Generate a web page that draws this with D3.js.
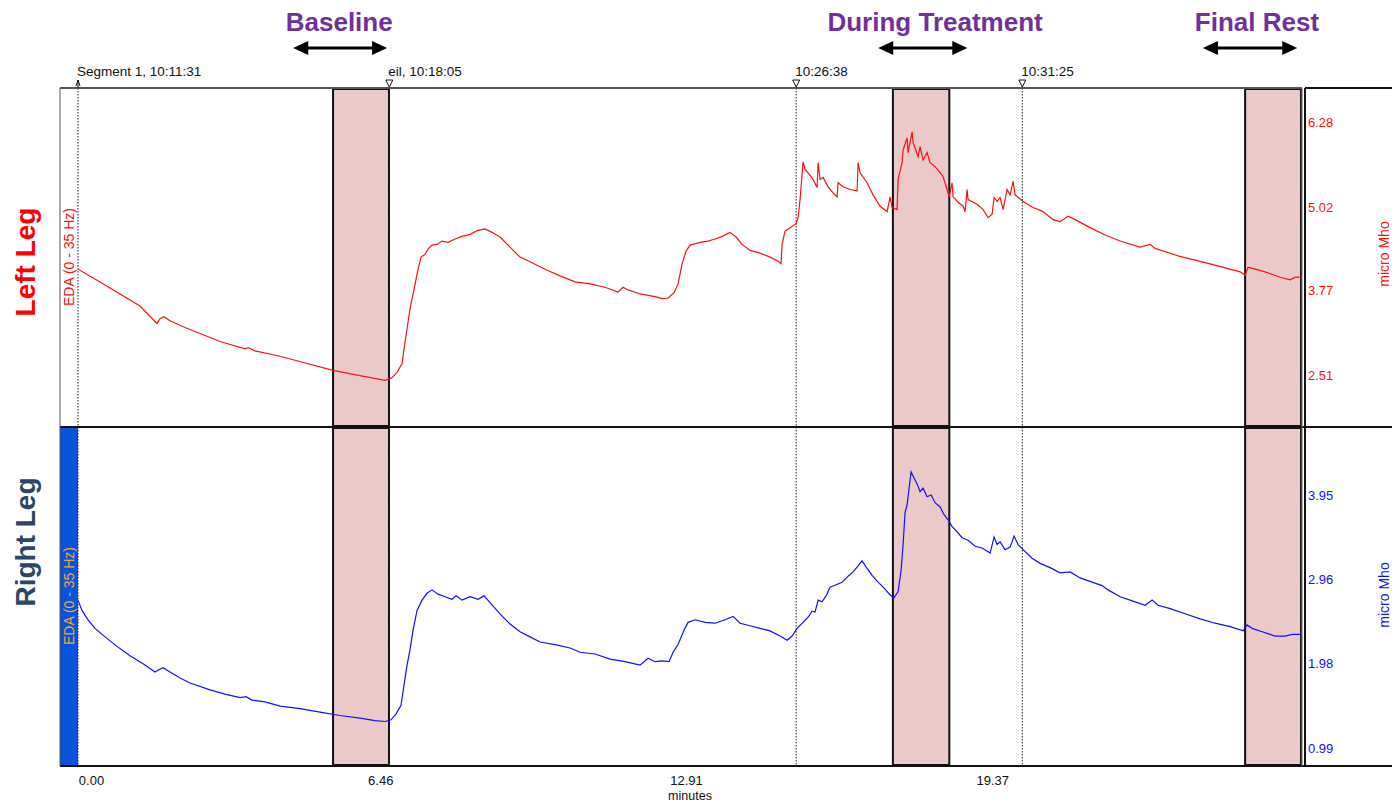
<!DOCTYPE html>
<html><head><meta charset="utf-8">
<script src="https://cdn.jsdelivr.net/npm/d3@7"></script>
<style>body{margin:0;background:#fff;}svg{display:block;font-family:"Liberation Sans",Arial,sans-serif;}</style>
</head><body><svg id="c" width="1400" height="803"></svg>
<script>
// ---- data ----
const leftLeg = [[0,4.09],[0.464,3.90],[0.886,3.72],[1.308,3.54],[1.667,3.28],[1.730,3.35],[1.814,3.38],[1.941,3.32],[2.257,3.22],[2.574,3.13],[2.996,3.01],[3.523,2.90],[3.586,2.92],[3.734,2.87],[4.262,2.79],[4.895,2.67],[5.380,2.58],[5.949,2.50],[6.477,2.43],[6.624,2.47],[6.730,2.55],[6.835,2.68],[6.878,2.90],[6.941,3.20],[7.004,3.50],[7.089,3.79],[7.173,4.09],[7.236,4.27],[7.321,4.31],[7.384,4.39],[7.468,4.45],[7.574,4.46],[7.679,4.51],[7.806,4.49],[7.954,4.54],[8.101,4.58],[8.270,4.61],[8.439,4.67],[8.586,4.69],[8.734,4.64],[8.903,4.57],[9.114,4.42],[9.325,4.27],[9.536,4.20],[9.852,4.09],[10.169,3.99],[10.485,3.90],[10.802,3.87],[11.118,3.82],[11.392,3.75],[11.498,3.82],[11.603,3.78],[11.857,3.72],[12.173,3.68],[12.321,3.65],[12.447,3.66],[12.574,3.74],[12.658,3.87],[12.743,4.17],[12.827,4.36],[12.911,4.45],[13.122,4.49],[13.291,4.51],[13.439,4.54],[13.586,4.58],[13.755,4.64],[13.882,4.57],[14.008,4.46],[14.177,4.37],[14.388,4.33],[14.599,4.27],[14.768,4.21],[14.831,4.17],[14.852,4.46],[14.916,4.66],[15.021,4.71],[15.148,4.77],[15.190,4.86],[15.232,5.13],[15.295,5.69],[15.338,5.58],[15.443,5.49],[15.506,5.43],[15.591,5.31],[15.612,5.68],[15.654,5.43],[15.717,5.46],[15.823,5.32],[15.928,5.23],[16.013,5.17],[16.034,5.38],[16.139,5.32],[16.287,5.28],[16.435,5.26],[16.456,5.68],[16.498,5.53],[16.646,5.38],[16.772,5.20],[16.920,5.03],[17.068,4.95],[17.131,5.17],[17.173,5.01],[17.278,4.98],[17.300,5.43],[17.384,5.68],[17.405,5.87],[17.489,6.05],[17.511,5.83],[17.595,6.14],[17.616,5.98],[17.722,5.77],[17.764,5.92],[17.827,5.72],[17.911,5.83],[17.975,5.68],[18.080,5.62],[18.186,5.53],[18.249,5.47],[18.333,5.28],[18.376,5.17],[18.439,5.38],[18.460,5.17],[18.565,5.09],[18.671,5.03],[18.713,4.95],[18.755,5.28],[18.776,5.13],[18.966,5.06],[19.093,4.98],[19.198,4.86],[19.283,4.91],[19.325,5.16],[19.388,5.10],[19.451,5.16],[19.515,4.98],[19.599,5.28],[19.662,5.20],[19.726,5.40],[19.768,5.20],[19.937,5.10],[20.148,5.01],[20.359,4.95],[20.570,4.83],[20.717,4.80],[20.886,4.88],[21.034,4.83],[21.350,4.71],[21.667,4.60],[21.983,4.51],[22.405,4.42],[22.616,4.46],[22.722,4.40],[23.249,4.28],[23.882,4.17],[24.515,4.05],[24.620,4.00],[24.684,4.12],[24.831,4.09],[25.042,4.05],[25.359,3.97],[25.570,3.93],[25.675,3.97],[25.802,3.97]];

const rightLeg = [[0,2.72],[0.084,2.60],[0.211,2.49],[0.359,2.39],[0.570,2.29],[0.844,2.17],[1.097,2.07],[1.414,1.96],[1.624,1.88],[1.688,1.90],[1.793,1.93],[1.941,1.88],[2.152,1.81],[2.363,1.75],[2.785,1.67],[3.101,1.62],[3.418,1.58],[3.544,1.59],[3.671,1.55],[3.945,1.53],[4.262,1.48],[4.684,1.45],[5.105,1.41],[5.527,1.37],[5.949,1.34],[6.266,1.31],[6.477,1.30],[6.603,1.32],[6.709,1.39],[6.814,1.49],[6.878,1.73],[6.941,1.96],[7.004,2.14],[7.068,2.37],[7.152,2.60],[7.257,2.72],[7.363,2.80],[7.468,2.84],[7.595,2.79],[7.743,2.76],[7.890,2.73],[7.975,2.77],[8.101,2.72],[8.270,2.76],[8.439,2.73],[8.565,2.77],[8.692,2.69],[8.903,2.56],[9.114,2.44],[9.325,2.35],[9.536,2.29],[9.747,2.23],[10.063,2.20],[10.380,2.16],[10.591,2.11],[10.907,2.09],[11.224,2.03],[11.540,2.00],[11.857,1.96],[12.025,2.04],[12.173,2.00],[12.321,2.01],[12.468,2.00],[12.553,2.11],[12.658,2.20],[12.785,2.37],[12.869,2.46],[13.017,2.49],[13.228,2.46],[13.439,2.45],[13.650,2.49],[13.819,2.53],[13.966,2.45],[14.177,2.42],[14.388,2.39],[14.599,2.36],[14.810,2.30],[14.958,2.25],[15.063,2.30],[15.169,2.39],[15.295,2.46],[15.401,2.52],[15.485,2.59],[15.548,2.58],[15.612,2.72],[15.696,2.70],[15.781,2.77],[15.865,2.87],[15.992,2.90],[16.118,2.93],[16.245,3.00],[16.350,3.05],[16.456,3.12],[16.540,3.18],[16.624,3.11],[16.751,3.01],[16.878,2.93],[17.004,2.86],[17.131,2.78],[17.215,2.75],[17.300,2.82],[17.363,3.07],[17.405,3.37],[17.447,3.75],[17.489,3.83],[17.532,4.03],[17.574,4.22],[17.637,4.15],[17.700,4.08],[17.764,3.99],[17.827,4.03],[17.911,3.93],[17.996,3.95],[18.080,3.86],[18.186,3.81],[18.270,3.72],[18.354,3.66],[18.439,3.58],[18.544,3.52],[18.650,3.45],[18.776,3.42],[18.924,3.35],[19.072,3.33],[19.241,3.27],[19.325,3.46],[19.388,3.37],[19.451,3.40],[19.557,3.31],[19.662,3.34],[19.747,3.47],[19.831,3.37],[19.958,3.30],[20.127,3.21],[20.295,3.15],[20.506,3.10],[20.717,3.04],[20.928,3.05],[21.139,2.98],[21.392,2.93],[21.603,2.89],[21.730,2.84],[21.983,2.76],[22.300,2.70],[22.511,2.66],[22.658,2.72],[22.785,2.66],[23.038,2.62],[23.354,2.56],[23.671,2.50],[23.987,2.45],[24.304,2.41],[24.578,2.36],[24.662,2.43],[24.768,2.39],[24.979,2.35],[25.253,2.30],[25.464,2.30],[25.612,2.32],[25.802,2.32]];

const xTicks = [0, 6.46, 12.91, 19.37];
const leftTicks = [2.51, 3.77, 5.02, 6.28];
const rightTicks = [0.99, 1.98, 2.96, 3.95];
const markerTimes = [0, 6.567, 15.15, 19.92];
const markerLabels = ["Segment 1, 10:11:31", "eil, 10:18:05", "10:26:38", "10:31:25"];
const phaseNames = ["Baseline", "During Treatment", "Final Rest"];
const phaseStart = [5.38, 17.19, 24.62];
const phaseEnd = [6.56, 18.38, 25.80];
const phaseArrowStart = [4.54, 16.88, 23.73];
const phaseArrowEnd = [6.52, 18.76, 25.72];
const phaseLabelCenter = [5.51, 18.08, 24.87];

// ---- layout ----
const svg = d3.select("#c");
const L = 78, R = 1302, stripL = 60, axR = 1305, farR = 1392;
const top1 = 88, mid = 427, bot = 766;
const x = d3.scaleLinear().domain([0, 25.82]).range([L, R]);
const yTop = d3.scaleLinear().domain([2.51, 6.28]).range([375, 122.5]);
const yBot = d3.scaleLinear().domain([0.99, 3.95]).range([748, 495]);

const defs = svg.append("defs");
defs.append("clipPath").attr("id","cTop").append("rect").attr("x",L).attr("y",top1).attr("width",R-L).attr("height",mid-top1);
defs.append("clipPath").attr("id","cBot").append("rect").attr("x",L).attr("y",mid).attr("width",R-L).attr("height",bot-mid);

// left strip
svg.append("rect").attr("x",stripL).attr("y",top1).attr("width",L-stripL).attr("height",mid-top1).attr("fill","#fff");
svg.append("rect").attr("x",stripL).attr("y",mid).attr("width",L-stripL).attr("height",bot-mid).attr("fill","#0753dc");

// shaded regions
[[top1+1, mid-1],[mid+1, bot-1]].forEach(([a,b]) => {
  svg.append("g").selectAll("rect").data(phaseStart).join("rect")
    .attr("x",(d)=>x(d)).attr("y",a)
    .attr("width",(d,i)=>x(phaseEnd[i])-x(d)).attr("height",b-a)
    .attr("fill","#ebc9c9").attr("stroke","#111").attr("stroke-width",2);
});

// marker dotted lines
svg.append("g").selectAll("line").data(markerTimes).join("line")
  .attr("x1",d=>x(d)).attr("x2",d=>x(d)).attr("y1",top1).attr("y2",bot)
  .attr("stroke","#222").attr("stroke-width",1).attr("stroke-dasharray","1.5,1.5");

// lines
const lineTop = d3.line().x(d=>x(d[0])).y(d=>yTop(d[1]));
const lineBot = d3.line().x(d=>x(d[0])).y(d=>yBot(d[1]));
svg.append("path").attr("d",lineTop(leftLeg)).attr("fill","none").attr("stroke","#ff1010").attr("stroke-width",1.2).attr("clip-path","url(#cTop)");
svg.append("path").attr("d",lineBot(rightLeg)).attr("fill","none").attr("stroke","#1010ff").attr("stroke-width",1.2).attr("clip-path","url(#cBot)");

// frames
const fr = svg.append("g").attr("stroke","#111").attr("fill","none");
fr.append("line").attr("x1",stripL).attr("x2",R).attr("y1",top1).attr("y2",top1).attr("stroke","#555").attr("stroke-width",2);
fr.append("line").attr("x1",axR).attr("x2",farR).attr("y1",top1).attr("y2",top1).attr("stroke-width",2);
fr.append("line").attr("x1",stripL).attr("x2",farR).attr("y1",mid).attr("y2",mid).attr("stroke-width",2);
fr.append("line").attr("x1",stripL).attr("x2",farR).attr("y1",bot).attr("y2",bot).attr("stroke-width",2);
fr.append("line").attr("x1",stripL).attr("x2",stripL).attr("y1",top1).attr("y2",bot).attr("stroke","#555").attr("stroke-width",1);
fr.append("line").attr("x1",R).attr("x2",R).attr("y1",top1).attr("y2",bot).attr("stroke","#777").attr("stroke-width",1);
fr.append("line").attr("x1",axR).attr("x2",axR).attr("y1",top1).attr("y2",bot).attr("stroke-width",2);

// right axes
const axT = svg.append("g").attr("transform",`translate(${axR},0)`)
  .call(d3.axisRight(yTop).tickValues(leftTicks).tickSize(0).tickPadding(3).tickFormat(d3.format(".2f")));
axT.select(".domain").remove();
axT.selectAll("text").attr("fill","#ff1010").attr("font-size",13).attr("font-family","Liberation Sans, Arial");
const axB = svg.append("g").attr("transform",`translate(${axR},0)`)
  .call(d3.axisRight(yBot).tickValues(rightTicks).tickSize(0).tickPadding(3).tickFormat(d3.format(".2f")));
axB.select(".domain").remove();
axB.selectAll("text").attr("fill","#1010ff").attr("font-size",13).attr("font-family","Liberation Sans, Arial");

svg.append("text").attr("transform","translate(1389,254) rotate(-90)").attr("text-anchor","middle")
  .attr("font-size",14).attr("fill","#ff1010").text("micro Mho");
svg.append("text").attr("transform","translate(1389,595) rotate(-90)").attr("text-anchor","middle")
  .attr("font-size",14).attr("fill","#1010ff").text("micro Mho");

// bottom axis
const axX = svg.append("g").attr("transform",`translate(0,${bot})`)
  .call(d3.axisBottom(x).tickValues(xTicks).tickSize(0).tickPadding(10).tickFormat(d3.format(".2f")));
axX.select(".domain").remove();
axX.selectAll("text").attr("fill","#111").attr("font-size",13)
  .attr("font-family","Liberation Sans Narrow, Arial Narrow, Liberation Sans, Arial")
  .attr("dx",(d,i)=> i===0 ? 13 : -4);
svg.append("text").attr("x",690).attr("y",800).attr("text-anchor","middle").attr("font-size",12.5)
  .attr("font-family","Liberation Sans Narrow, Arial Narrow, Liberation Sans, Arial").attr("fill","#111").text("minutes");

// strip labels
svg.append("text").attr("transform","translate(74,257) rotate(-90)").attr("text-anchor","middle")
  .attr("font-size",14).attr("fill","#ff1010").text("EDA (0 - 35 Hz)");
svg.append("text").attr("transform","translate(74,596) rotate(-90)").attr("text-anchor","middle")
  .attr("font-size",14).attr("fill","#f0a830").text("EDA (0 - 35 Hz)");

// big leg labels
svg.append("text").attr("transform","translate(35,262) rotate(-90)").attr("text-anchor","middle")
  .attr("font-size",28).attr("font-weight","bold").attr("fill","#ff0000").text("Left Leg");
svg.append("text").attr("transform","translate(35,542) rotate(-90)").attr("text-anchor","middle")
  .attr("font-size",28).attr("font-weight","bold").attr("fill","#2c4766").text("Right Leg");

// markers
const mk = svg.append("g");
mk.selectAll("text").data(markerTimes).join("text")
  .attr("x",d=>x(d)-1).attr("y",76).attr("font-size",13.5).attr("fill","#111")
  .text((d,i)=>markerLabels[i]);
mk.selectAll("path").data(markerTimes).join("path")
  .attr("d",(d,i)=>{const cx=x(d); return i===0 ? `M${cx},80 L${cx-2},86 M${cx},80 L${cx+2},86 M${cx},80 L${cx},88` : `M${cx-3.5},80 L${cx+3.5},80 L${cx},87 Z`;})
  .attr("fill","#fff").attr("stroke","#111").attr("stroke-width",1);

// phase labels and arrows
svg.append("g").selectAll("text").data(phaseNames).join("text")
  .attr("x",(d,i)=>x(phaseLabelCenter[i])).attr("y",31).attr("text-anchor","middle")
  .attr("font-size",26).attr("font-weight","bold").attr("fill","#7030a0").text(d=>d);
const ar = svg.append("g");
phaseArrowStart.forEach((s,i)=>{
  const a = x(s), b = x(phaseArrowEnd[i]), yy = 48;
  ar.append("line").attr("x1",a+10).attr("x2",b-10).attr("y1",yy).attr("y2",yy).attr("stroke","#000").attr("stroke-width",3);
  ar.append("path").attr("d",`M${a},${yy} L${a+15},${yy-7} L${a+15},${yy+7} Z`).attr("fill","#000");
  ar.append("path").attr("d",`M${b},${yy} L${b-15},${yy-7} L${b-15},${yy+7} Z`).attr("fill","#000");
});
</script></body></html>
